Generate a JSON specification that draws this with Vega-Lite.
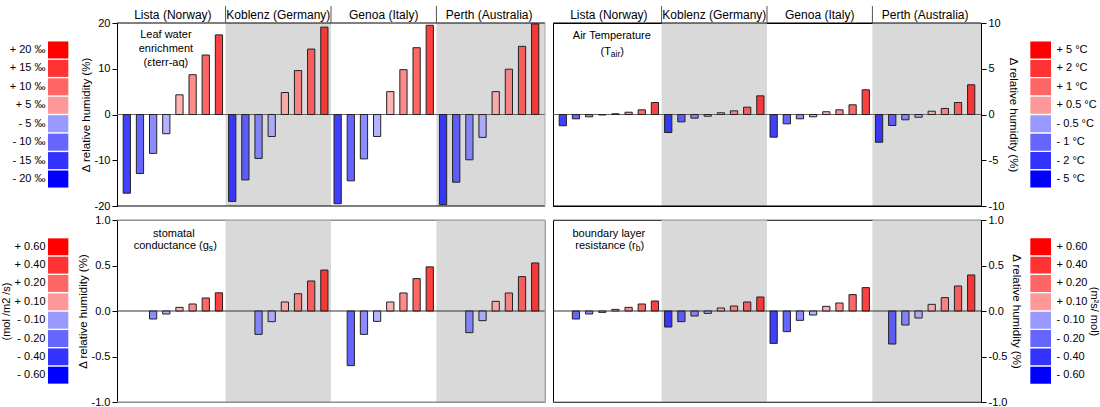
{
"$schema": "https://vega.github.io/schema/vega-lite/v6.json",
"padding": {"left": 0, "top": 4, "right": 4, "bottom": 4},
"bounds": "flush",
"align": "each",
"columns": 4,
"spacing": {"row": 14, "column": 8},
"config": {
  "font": "Liberation Sans",
  "view": {"stroke": null},
  "axis": {"labelFont": "Liberation Sans", "titleFont": "Liberation Sans", "labelColor": "#000", "titleColor": "#000", "titleFontWeight": "normal", "grid": false, "domainColor": "#000", "tickColor": "#000", "labelFontSize": 11, "titleFontSize": 11.5, "zindex": 1},
  "text": {"font": "Liberation Sans", "fontSize": 11, "color": "#000"}
},
"datasets": {
  "bars": [
    {"p":"eps","site":"Lista (Norway)","lvl":"n4","v":-17.2},{"p":"eps","site":"Lista (Norway)","lvl":"n3","v":-12.9},{"p":"eps","site":"Lista (Norway)","lvl":"n2","v":-8.5},{"p":"eps","site":"Lista (Norway)","lvl":"n1","v":-4.2},{"p":"eps","site":"Lista (Norway)","lvl":"p1","v":4.3},{"p":"eps","site":"Lista (Norway)","lvl":"p2","v":8.7},{"p":"eps","site":"Lista (Norway)","lvl":"p3","v":13.0},{"p":"eps","site":"Lista (Norway)","lvl":"p4","v":17.4},
    {"p":"eps","site":"Koblenz (Germany)","lvl":"n4","v":-19.0},{"p":"eps","site":"Koblenz (Germany)","lvl":"n3","v":-14.3},{"p":"eps","site":"Koblenz (Germany)","lvl":"n2","v":-9.6},{"p":"eps","site":"Koblenz (Germany)","lvl":"n1","v":-4.8},{"p":"eps","site":"Koblenz (Germany)","lvl":"p1","v":4.8},{"p":"eps","site":"Koblenz (Germany)","lvl":"p2","v":9.6},{"p":"eps","site":"Koblenz (Germany)","lvl":"p3","v":14.3},{"p":"eps","site":"Koblenz (Germany)","lvl":"p4","v":19.1},
    {"p":"eps","site":"Genoa (Italy)","lvl":"n4","v":-19.5},{"p":"eps","site":"Genoa (Italy)","lvl":"n3","v":-14.5},{"p":"eps","site":"Genoa (Italy)","lvl":"n2","v":-9.7},{"p":"eps","site":"Genoa (Italy)","lvl":"n1","v":-4.8},{"p":"eps","site":"Genoa (Italy)","lvl":"p1","v":5.0},{"p":"eps","site":"Genoa (Italy)","lvl":"p2","v":9.8},{"p":"eps","site":"Genoa (Italy)","lvl":"p3","v":14.6},{"p":"eps","site":"Genoa (Italy)","lvl":"p4","v":19.5},
    {"p":"eps","site":"Perth (Australia)","lvl":"n4","v":-19.7},{"p":"eps","site":"Perth (Australia)","lvl":"n3","v":-14.8},{"p":"eps","site":"Perth (Australia)","lvl":"n2","v":-9.9},{"p":"eps","site":"Perth (Australia)","lvl":"n1","v":-5.0},{"p":"eps","site":"Perth (Australia)","lvl":"p1","v":5.0},{"p":"eps","site":"Perth (Australia)","lvl":"p2","v":9.9},{"p":"eps","site":"Perth (Australia)","lvl":"p3","v":14.9},{"p":"eps","site":"Perth (Australia)","lvl":"p4","v":19.8},
    {"p":"tair","site":"Lista (Norway)","lvl":"n4","v":-1.23},{"p":"tair","site":"Lista (Norway)","lvl":"n3","v":-0.47},{"p":"tair","site":"Lista (Norway)","lvl":"n2","v":-0.25},{"p":"tair","site":"Lista (Norway)","lvl":"n1","v":-0.05},{"p":"tair","site":"Lista (Norway)","lvl":"p1","v":0.08},{"p":"tair","site":"Lista (Norway)","lvl":"p2","v":0.25},{"p":"tair","site":"Lista (Norway)","lvl":"p3","v":0.51},{"p":"tair","site":"Lista (Norway)","lvl":"p4","v":1.31},
    {"p":"tair","site":"Koblenz (Germany)","lvl":"n4","v":-1.97},{"p":"tair","site":"Koblenz (Germany)","lvl":"n3","v":-0.8},{"p":"tair","site":"Koblenz (Germany)","lvl":"n2","v":-0.4},{"p":"tair","site":"Koblenz (Germany)","lvl":"n1","v":-0.19},{"p":"tair","site":"Koblenz (Germany)","lvl":"p1","v":0.19},{"p":"tair","site":"Koblenz (Germany)","lvl":"p2","v":0.4},{"p":"tair","site":"Koblenz (Germany)","lvl":"p3","v":0.8},{"p":"tair","site":"Koblenz (Germany)","lvl":"p4","v":2.04},
    {"p":"tair","site":"Genoa (Italy)","lvl":"n4","v":-2.48},{"p":"tair","site":"Genoa (Italy)","lvl":"n3","v":-1.02},{"p":"tair","site":"Genoa (Italy)","lvl":"n2","v":-0.47},{"p":"tair","site":"Genoa (Italy)","lvl":"n1","v":-0.25},{"p":"tair","site":"Genoa (Italy)","lvl":"p1","v":0.3},{"p":"tair","site":"Genoa (Italy)","lvl":"p2","v":0.51},{"p":"tair","site":"Genoa (Italy)","lvl":"p3","v":1.06},{"p":"tair","site":"Genoa (Italy)","lvl":"p4","v":2.7},
    {"p":"tair","site":"Perth (Australia)","lvl":"n4","v":-3.03},{"p":"tair","site":"Perth (Australia)","lvl":"n3","v":-1.2},{"p":"tair","site":"Perth (Australia)","lvl":"n2","v":-0.58},{"p":"tair","site":"Perth (Australia)","lvl":"n1","v":-0.3},{"p":"tair","site":"Perth (Australia)","lvl":"p1","v":0.36},{"p":"tair","site":"Perth (Australia)","lvl":"p2","v":0.66},{"p":"tair","site":"Perth (Australia)","lvl":"p3","v":1.31},{"p":"tair","site":"Perth (Australia)","lvl":"p4","v":3.25},
    {"p":"gs","site":"Lista (Norway)","lvl":"n2","v":-0.088},{"p":"gs","site":"Lista (Norway)","lvl":"n1","v":-0.033},{"p":"gs","site":"Lista (Norway)","lvl":"p1","v":0.04},{"p":"gs","site":"Lista (Norway)","lvl":"p2","v":0.077},{"p":"gs","site":"Lista (Norway)","lvl":"p3","v":0.143},{"p":"gs","site":"Lista (Norway)","lvl":"p4","v":0.2},
    {"p":"gs","site":"Koblenz (Germany)","lvl":"n2","v":-0.257},{"p":"gs","site":"Koblenz (Germany)","lvl":"n1","v":-0.117},{"p":"gs","site":"Koblenz (Germany)","lvl":"p1","v":0.099},{"p":"gs","site":"Koblenz (Germany)","lvl":"p2","v":0.19},{"p":"gs","site":"Koblenz (Germany)","lvl":"p3","v":0.33},{"p":"gs","site":"Koblenz (Germany)","lvl":"p4","v":0.45},
    {"p":"gs","site":"Genoa (Italy)","lvl":"n3","v":-0.6},{"p":"gs","site":"Genoa (Italy)","lvl":"n2","v":-0.257},{"p":"gs","site":"Genoa (Italy)","lvl":"n1","v":-0.114},{"p":"gs","site":"Genoa (Italy)","lvl":"p1","v":0.099},{"p":"gs","site":"Genoa (Italy)","lvl":"p2","v":0.198},{"p":"gs","site":"Genoa (Italy)","lvl":"p3","v":0.356},{"p":"gs","site":"Genoa (Italy)","lvl":"p4","v":0.485},
    {"p":"gs","site":"Perth (Australia)","lvl":"n2","v":-0.238},{"p":"gs","site":"Perth (Australia)","lvl":"n1","v":-0.106},{"p":"gs","site":"Perth (Australia)","lvl":"p1","v":0.106},{"p":"gs","site":"Perth (Australia)","lvl":"p2","v":0.198},{"p":"gs","site":"Perth (Australia)","lvl":"p3","v":0.378},{"p":"gs","site":"Perth (Australia)","lvl":"p4","v":0.528},
    {"p":"rb","site":"Lista (Norway)","lvl":"n3","v":-0.088},{"p":"rb","site":"Lista (Norway)","lvl":"n2","v":-0.033},{"p":"rb","site":"Lista (Norway)","lvl":"n1","v":-0.015},{"p":"rb","site":"Lista (Norway)","lvl":"p1","v":0.018},{"p":"rb","site":"Lista (Norway)","lvl":"p2","v":0.04},{"p":"rb","site":"Lista (Norway)","lvl":"p3","v":0.077},{"p":"rb","site":"Lista (Norway)","lvl":"p4","v":0.11},
    {"p":"rb","site":"Koblenz (Germany)","lvl":"n4","v":-0.176},{"p":"rb","site":"Koblenz (Germany)","lvl":"n3","v":-0.117},{"p":"rb","site":"Koblenz (Germany)","lvl":"n2","v":-0.055},{"p":"rb","site":"Koblenz (Germany)","lvl":"n1","v":-0.026},{"p":"rb","site":"Koblenz (Germany)","lvl":"p1","v":0.033},{"p":"rb","site":"Koblenz (Germany)","lvl":"p2","v":0.055},{"p":"rb","site":"Koblenz (Germany)","lvl":"p3","v":0.099},{"p":"rb","site":"Koblenz (Germany)","lvl":"p4","v":0.154},
    {"p":"rb","site":"Genoa (Italy)","lvl":"n4","v":-0.356},{"p":"rb","site":"Genoa (Italy)","lvl":"n3","v":-0.227},{"p":"rb","site":"Genoa (Italy)","lvl":"n2","v":-0.103},{"p":"rb","site":"Genoa (Italy)","lvl":"n1","v":-0.044},{"p":"rb","site":"Genoa (Italy)","lvl":"p1","v":0.051},{"p":"rb","site":"Genoa (Italy)","lvl":"p2","v":0.088},{"p":"rb","site":"Genoa (Italy)","lvl":"p3","v":0.18},{"p":"rb","site":"Genoa (Italy)","lvl":"p4","v":0.257},
    {"p":"rb","site":"Perth (Australia)","lvl":"n3","v":-0.363},{"p":"rb","site":"Perth (Australia)","lvl":"n2","v":-0.154},{"p":"rb","site":"Perth (Australia)","lvl":"n1","v":-0.077},{"p":"rb","site":"Perth (Australia)","lvl":"p1","v":0.073},{"p":"rb","site":"Perth (Australia)","lvl":"p2","v":0.147},{"p":"rb","site":"Perth (Australia)","lvl":"p3","v":0.275},{"p":"rb","site":"Perth (Australia)","lvl":"p4","v":0.396}
  ],
  "leg": [
    {"p":"eps","lvl":"p4","label":"+ 20 ‰"},{"p":"eps","lvl":"p3","label":"+ 15 ‰"},{"p":"eps","lvl":"p2","label":"+ 10 ‰"},{"p":"eps","lvl":"p1","label":"+ 5 ‰"},{"p":"eps","lvl":"n1","label":"- 5 ‰"},{"p":"eps","lvl":"n2","label":"- 10 ‰"},{"p":"eps","lvl":"n3","label":"- 15 ‰"},{"p":"eps","lvl":"n4","label":"- 20 ‰"},
    {"p":"tair","lvl":"p4","label":"+ 5 °C"},{"p":"tair","lvl":"p3","label":"+ 2 °C"},{"p":"tair","lvl":"p2","label":"+ 1 °C"},{"p":"tair","lvl":"p1","label":"+ 0.5 °C"},{"p":"tair","lvl":"n1","label":"- 0.5 °C"},{"p":"tair","lvl":"n2","label":"- 1 °C"},{"p":"tair","lvl":"n3","label":"- 2 °C"},{"p":"tair","lvl":"n4","label":"- 5 °C"},
    {"p":"gs","lvl":"p4","label":"+ 0.60"},{"p":"gs","lvl":"p3","label":"+ 0.40"},{"p":"gs","lvl":"p2","label":"+ 0.20"},{"p":"gs","lvl":"p1","label":"+ 0.10"},{"p":"gs","lvl":"n1","label":"- 0.10"},{"p":"gs","lvl":"n2","label":"- 0.20"},{"p":"gs","lvl":"n3","label":"- 0.40"},{"p":"gs","lvl":"n4","label":"- 0.60"},
    {"p":"rb","lvl":"p4","label":"+ 0.60"},{"p":"rb","lvl":"p3","label":"+ 0.40"},{"p":"rb","lvl":"p2","label":"+ 0.20"},{"p":"rb","lvl":"p1","label":"+ 0.10"},{"p":"rb","lvl":"n1","label":"- 0.10"},{"p":"rb","lvl":"n2","label":"- 0.20"},{"p":"rb","lvl":"n3","label":"- 0.40"},{"p":"rb","lvl":"n4","label":"- 0.60"}
  ]
},
"concat": [
  {"width": 61, "height": 183, "data": {"name": "leg"}, "transform": [{"filter": "datum.p == 'eps'"}], "mark": "rect",
   "encoding": {
     "x": {"field": "p", "type": "nominal", "scale": {"paddingInner": 0, "paddingOuter": 1.025, "align": 0}, "axis": null},
     "y": {"field": "label", "type": "nominal", "sort": null, "scale": {"paddingInner": 0.077, "paddingOuter": 1.67}, "axis": {"orient": "left", "domain": false, "ticks": false, "tickSize": 0, "labelPadding": 3, "title": null}},
     "color": {"field": "lvl", "type": "nominal", "scale": {"domain": ["n4","n3","n2","n1","p1","p2","p3","p4"], "range": ["#0000ff","#3333ff","#6666ff","#9999ff","#ff9999","#ff6666","#ff3333","#ff0000"]}, "legend": null}}},
  {"width": 428, "height": 183, "resolve": {"axis": {"x": "independent", "y": "independent"}}, "layer": [
    {"data": {"values": [{"site": "Koblenz (Germany)"}]}, "mark": {"type": "rect", "fill": "#d9d9d9"},
     "encoding": {"x": {"field": "site", "type": "nominal", "axis": null}, "y": {"datum": 20, "axis": null}, "y2": {"datum": -20}}},
    {"data": {"values": [{"site": "Perth (Australia)"}]}, "mark": {"type": "rect", "fill": "#d9d9d9"},
     "encoding": {"x": {"field": "site", "type": "nominal", "bandPosition": 0, "axis": null}, "x2": {"value": "width"}, "y": {"datum": 20, "axis": null}, "y2": {"datum": -20}}},
    {"data": {"values": [{}]}, "mark": {"type": "rule", "color": "#666"}, "encoding": {"y": {"datum": 0, "axis": null}}},
    {"data": {"name": "bars"}, "transform": [{"filter": "datum.p == 'eps'"}], "mark": {"type": "bar", "fillOpacity": 0.75, "stroke": "#222", "strokeWidth": 1},
     "encoding": {
       "x": {"field": "site", "type": "nominal", "scale": {"domain": ["Lista (Norway)","Koblenz (Germany)","Genoa (Italy)","Perth (Australia)"], "paddingInner": 0, "paddingOuter": 0.03}, "axis": {"orient": "top", "domain": false, "ticks": false, "tickSize": 0, "labelFontSize": 12, "labelPadding": 5, "labelBaseline": "alphabetic", "labelAngle": 0, "title": null}},
       "xOffset": {"field": "lvl", "type": "nominal", "scale": {"domain": ["n4","n3","n2","n1","p1","p2","p3","p4"], "paddingInner": 0.45, "paddingOuter": 0.23}},
       "y": {"field": "v", "type": "quantitative", "scale": {"domain": [-20, 20], "nice": false}, "axis": {"orient": "left", "values": [-20, -10, 0, 10, 20], "tickSize": 5, "labelPadding": 2, "title": "Δ relative humidity (%)", "titlePadding": 3, "labelExpr": "replace(datum.label, '−', '-')"}},
       "color": {"field": "lvl", "type": "nominal", "legend": null}}},
    {"data": {"values": [{}]}, "mark": {"type": "rule", "color": "#000"}, "encoding": {"y": {"datum": 20, "axis": null}}},
    {"data": {"values": [{}]}, "mark": {"type": "rule", "color": "#000"}, "encoding": {"y": {"datum": -20, "axis": null}}},
    {"data": {"values": [{}]}, "mark": {"type": "rule", "color": "#aaa"}, "encoding": {"x": {"value": "width"}}},
    {"data": {"values": [{"site": "Koblenz (Germany)"}, {"site": "Genoa (Italy)"}, {"site": "Perth (Australia)"}]}, "mark": {"type": "rule", "color": "#555"},
     "encoding": {"x": {"field": "site", "type": "nominal", "bandPosition": 0, "axis": null}, "y": {"datum": 20, "axis": null}, "y2": {"datum": 23.72}}},
    {"data": {"values": [{}]}, "mark": {"type": "text", "text": ["Leaf water", "enrichment", "(εterr-aq)"], "lineHeight": 14, "align": "center", "baseline": "alphabetic", "dx": -7},
     "encoding": {"x": {"datum": "Lista (Norway)", "type": "nominal", "axis": null}, "y": {"datum": 16.7, "axis": null}}}
  ]},
  {"width": 428, "height": 183, "view": {"stroke": "#000"}, "resolve": {"axis": {"x": "independent", "y": "independent"}}, "layer": [
    {"data": {"values": [{"site": "Koblenz (Germany)"}]}, "mark": {"type": "rect", "fill": "#d9d9d9"},
     "encoding": {"x": {"field": "site", "type": "nominal", "axis": null}, "y": {"datum": 10, "axis": null}, "y2": {"datum": -10}}},
    {"data": {"values": [{"site": "Perth (Australia)"}]}, "mark": {"type": "rect", "fill": "#d9d9d9"},
     "encoding": {"x": {"field": "site", "type": "nominal", "bandPosition": 0, "axis": null}, "x2": {"value": "width"}, "y": {"datum": 10, "axis": null}, "y2": {"datum": -10}}},
    {"data": {"values": [{}]}, "mark": {"type": "rule", "color": "#666"}, "encoding": {"y": {"datum": 0, "axis": null}}},
    {"data": {"name": "bars"}, "transform": [{"filter": "datum.p == 'tair'"}], "mark": {"type": "bar", "fillOpacity": 0.75, "stroke": "#222", "strokeWidth": 1},
     "encoding": {
       "x": {"field": "site", "type": "nominal", "scale": {"domain": ["Lista (Norway)","Koblenz (Germany)","Genoa (Italy)","Perth (Australia)"], "paddingInner": 0, "paddingOuter": 0.03}, "axis": {"orient": "top", "domain": false, "ticks": false, "tickSize": 0, "labelFontSize": 12, "labelPadding": 5, "labelBaseline": "alphabetic", "labelAngle": 0, "title": null}},
       "xOffset": {"field": "lvl", "type": "nominal", "scale": {"domain": ["n4","n3","n2","n1","p1","p2","p3","p4"], "paddingInner": 0.45, "paddingOuter": 0.23}},
       "y": {"field": "v", "type": "quantitative", "scale": {"domain": [-10, 10], "nice": false}, "axis": {"orient": "right", "values": [-10, -5, 0, 5, 10], "tickSize": 5, "labelPadding": 2, "title": "Δ relative humidity (%)", "titlePadding": 4, "labelExpr": "replace(datum.label, '−', '-')"}},
       "color": {"field": "lvl", "type": "nominal", "legend": null}}},
    {"data": {"values": [{}]}, "mark": {"type": "rule", "color": "#000"}, "encoding": {"y": {"datum": 10, "axis": null}}},
    {"data": {"values": [{}]}, "mark": {"type": "rule", "color": "#000"}, "encoding": {"y": {"datum": -10, "axis": null}}},
    {"data": {"values": [{"site": "Koblenz (Germany)"}, {"site": "Genoa (Italy)"}, {"site": "Perth (Australia)"}]}, "mark": {"type": "rule", "color": "#555"},
     "encoding": {"x": {"field": "site", "type": "nominal", "bandPosition": 0, "axis": null}, "y": {"datum": 10, "axis": null}, "y2": {"datum": 11.86}}},
    {"data": {"values": [{}]}, "mark": {"type": "text", "text": "Air Temperature", "align": "center", "baseline": "alphabetic", "dx": 3},
     "encoding": {"x": {"datum": "Lista (Norway)", "type": "nominal", "axis": null}, "y": {"datum": 8.25, "axis": null}}},
    {"data": {"values": [{}]}, "mark": {"type": "text", "text": "(T", "align": "right", "baseline": "alphabetic", "dx": 2},
     "encoding": {"x": {"datum": "Lista (Norway)", "type": "nominal", "axis": null}, "y": {"datum": 6.5, "axis": null}}},
    {"data": {"values": [{}]}, "mark": {"type": "text", "text": "air", "fontSize": 8.5, "align": "left", "baseline": "alphabetic", "dx": 2, "dy": 2},
     "encoding": {"x": {"datum": "Lista (Norway)", "type": "nominal", "axis": null}, "y": {"datum": 6.5, "axis": null}}},
    {"data": {"values": [{}]}, "mark": {"type": "text", "text": ")", "align": "left", "baseline": "alphabetic", "dx": 11.4},
     "encoding": {"x": {"datum": "Lista (Norway)", "type": "nominal", "axis": null}, "y": {"datum": 6.5, "axis": null}}}
  ]},
  {"width": 62, "height": 183, "data": {"name": "leg"}, "transform": [{"filter": "datum.p == 'tair'"}], "mark": "rect",
   "encoding": {
     "x": {"field": "p", "type": "nominal", "scale": {"paddingInner": 0, "paddingOuter": 1.05, "align": 1}, "axis": null},
     "y": {"field": "label", "type": "nominal", "sort": null, "scale": {"paddingInner": 0.077, "paddingOuter": 1.67}, "axis": {"orient": "right", "domain": false, "ticks": false, "tickSize": 0, "labelPadding": 5, "title": null}},
     "color": {"field": "lvl", "type": "nominal", "legend": null}}},
  {"width": 61, "height": 182, "data": {"name": "leg"}, "transform": [{"filter": "datum.p == 'gs'"}], "mark": "rect",
   "encoding": {
     "x": {"field": "p", "type": "nominal", "scale": {"paddingInner": 0, "paddingOuter": 1.025, "align": 0}, "axis": null},
     "y": {"field": "label", "type": "nominal", "sort": null, "scale": {"paddingInner": 0.077, "paddingOuter": 1.64}, "axis": {"orient": "left", "domain": false, "ticks": false, "tickSize": 0, "labelPadding": 3, "title": "(mol /m2 /s)", "titleFontSize": 11, "titlePadding": 3}},
     "color": {"field": "lvl", "type": "nominal", "legend": null}}},
  {"width": 428, "height": 182, "view": {"stroke": "#999"}, "resolve": {"axis": {"x": "independent", "y": "independent"}}, "layer": [
    {"data": {"values": [{"site": "Koblenz (Germany)"}]}, "mark": {"type": "rect", "fill": "#d9d9d9"},
     "encoding": {"x": {"field": "site", "type": "nominal", "axis": null}, "y": {"datum": 1, "axis": null}, "y2": {"datum": -1}}},
    {"data": {"values": [{"site": "Perth (Australia)"}]}, "mark": {"type": "rect", "fill": "#d9d9d9"},
     "encoding": {"x": {"field": "site", "type": "nominal", "bandPosition": 0, "axis": null}, "x2": {"value": "width"}, "y": {"datum": 1, "axis": null}, "y2": {"datum": -1}}},
    {"data": {"values": [{}]}, "mark": {"type": "rule", "color": "#333"}, "encoding": {"y": {"datum": 0, "axis": null}}},
    {"data": {"name": "bars"}, "transform": [{"filter": "datum.p == 'gs'"}], "mark": {"type": "bar", "fillOpacity": 0.75, "stroke": "#222", "strokeWidth": 1},
     "encoding": {
       "x": {"field": "site", "type": "nominal", "scale": {"domain": ["Lista (Norway)","Koblenz (Germany)","Genoa (Italy)","Perth (Australia)"], "paddingInner": 0, "paddingOuter": 0.03}, "axis": null},
       "xOffset": {"field": "lvl", "type": "nominal", "scale": {"domain": ["n4","n3","n2","n1","p1","p2","p3","p4"], "paddingInner": 0.45, "paddingOuter": 0.23}},
       "y": {"field": "v", "type": "quantitative", "scale": {"domain": [-1, 1], "nice": false}, "axis": {"orient": "left", "values": [-1, -0.5, 0, 0.5, 1], "format": ".1f", "tickSize": 5, "labelPadding": 2, "title": "Δ relative humidity (%)", "titlePadding": 3, "labelExpr": "replace(datum.label, '−', '-')"}},
       "color": {"field": "lvl", "type": "nominal", "legend": null}}},
    {"data": {"values": [{}]}, "mark": {"type": "rule", "color": "#888"}, "encoding": {"y": {"datum": 1, "axis": null}}},
    {"data": {"values": [{}]}, "mark": {"type": "rule", "color": "#888"}, "encoding": {"y": {"datum": -1, "axis": null}}},
    {"data": {"values": [{}]}, "mark": {"type": "rule", "color": "#aaa"}, "encoding": {"x": {"value": "width"}}},
    {"data": {"values": [{}]}, "mark": {"type": "text", "text": "stomatal", "align": "center", "baseline": "alphabetic", "dx": 1},
     "encoding": {"x": {"datum": "Lista (Norway)", "type": "nominal", "axis": null}, "y": {"datum": 0.813, "axis": null}}},
    {"data": {"values": [{}]}, "mark": {"type": "text", "text": "conductance (g", "align": "right", "baseline": "alphabetic", "dx": 36},
     "encoding": {"x": {"datum": "Lista (Norway)", "type": "nominal", "axis": null}, "y": {"datum": 0.681, "axis": null}}},
    {"data": {"values": [{}]}, "mark": {"type": "text", "text": "s", "fontSize": 8.5, "align": "left", "baseline": "alphabetic", "dx": 36, "dy": 2},
     "encoding": {"x": {"datum": "Lista (Norway)", "type": "nominal", "axis": null}, "y": {"datum": 0.681, "axis": null}}},
    {"data": {"values": [{}]}, "mark": {"type": "text", "text": ")", "align": "left", "baseline": "alphabetic", "dx": 40.3},
     "encoding": {"x": {"datum": "Lista (Norway)", "type": "nominal", "axis": null}, "y": {"datum": 0.681, "axis": null}}}
  ]},
  {"width": 428, "height": 182, "view": {"stroke": "#000"}, "resolve": {"axis": {"x": "independent", "y": "independent"}}, "layer": [
    {"data": {"values": [{"site": "Koblenz (Germany)"}]}, "mark": {"type": "rect", "fill": "#d9d9d9"},
     "encoding": {"x": {"field": "site", "type": "nominal", "axis": null}, "y": {"datum": 1, "axis": null}, "y2": {"datum": -1}}},
    {"data": {"values": [{"site": "Perth (Australia)"}]}, "mark": {"type": "rect", "fill": "#d9d9d9"},
     "encoding": {"x": {"field": "site", "type": "nominal", "bandPosition": 0, "axis": null}, "x2": {"value": "width"}, "y": {"datum": 1, "axis": null}, "y2": {"datum": -1}}},
    {"data": {"values": [{}]}, "mark": {"type": "rule", "color": "#333"}, "encoding": {"y": {"datum": 0, "axis": null}}},
    {"data": {"name": "bars"}, "transform": [{"filter": "datum.p == 'rb'"}], "mark": {"type": "bar", "fillOpacity": 0.75, "stroke": "#222", "strokeWidth": 1},
     "encoding": {
       "x": {"field": "site", "type": "nominal", "scale": {"domain": ["Lista (Norway)","Koblenz (Germany)","Genoa (Italy)","Perth (Australia)"], "paddingInner": 0, "paddingOuter": 0.03}, "axis": null},
       "xOffset": {"field": "lvl", "type": "nominal", "scale": {"domain": ["n4","n3","n2","n1","p1","p2","p3","p4"], "paddingInner": 0.45, "paddingOuter": 0.23}},
       "y": {"field": "v", "type": "quantitative", "scale": {"domain": [-1, 1], "nice": false}, "axis": {"orient": "right", "values": [-1, -0.5, 0, 0.5, 1], "format": ".1f", "tickSize": 5, "labelPadding": 2, "title": "Δ relative humidity (%)", "titlePadding": 4, "labelExpr": "replace(datum.label, '−', '-')"}},
       "color": {"field": "lvl", "type": "nominal", "legend": null}}},
    {"data": {"values": [{}]}, "mark": {"type": "rule", "color": "#888"}, "encoding": {"y": {"datum": 1, "axis": null}}},
    {"data": {"values": [{}]}, "mark": {"type": "rule", "color": "#888"}, "encoding": {"y": {"datum": -1, "axis": null}}},
    {"data": {"values": [{}]}, "mark": {"type": "text", "text": "boundary layer", "align": "center", "baseline": "alphabetic", "dx": 0},
     "encoding": {"x": {"datum": "Lista (Norway)", "type": "nominal", "axis": null}, "y": {"datum": 0.813, "axis": null}}},
    {"data": {"values": [{}]}, "mark": {"type": "text", "text": "resistance (r", "align": "right", "baseline": "alphabetic", "dx": 26.9},
     "encoding": {"x": {"datum": "Lista (Norway)", "type": "nominal", "axis": null}, "y": {"datum": 0.681, "axis": null}}},
    {"data": {"values": [{}]}, "mark": {"type": "text", "text": "b", "fontSize": 8.5, "align": "left", "baseline": "alphabetic", "dx": 26.9, "dy": 2},
     "encoding": {"x": {"datum": "Lista (Norway)", "type": "nominal", "axis": null}, "y": {"datum": 0.681, "axis": null}}},
    {"data": {"values": [{}]}, "mark": {"type": "text", "text": ")", "align": "left", "baseline": "alphabetic", "dx": 31.6},
     "encoding": {"x": {"datum": "Lista (Norway)", "type": "nominal", "axis": null}, "y": {"datum": 0.681, "axis": null}}}
  ]},
  {"width": 62, "height": 182, "data": {"name": "leg"}, "transform": [{"filter": "datum.p == 'rb'"}], "mark": "rect",
   "encoding": {
     "x": {"field": "p", "type": "nominal", "scale": {"paddingInner": 0, "paddingOuter": 1.05, "align": 1}, "axis": null},
     "y": {"field": "label", "type": "nominal", "sort": null, "scale": {"paddingInner": 0.077, "paddingOuter": 1.64}, "axis": {"orient": "right", "domain": false, "ticks": false, "tickSize": 0, "labelPadding": 5, "title": "(m²s/ mol)", "titleFontSize": 11, "titlePadding": 2}},
     "color": {"field": "lvl", "type": "nominal", "legend": null}}}
]
}
